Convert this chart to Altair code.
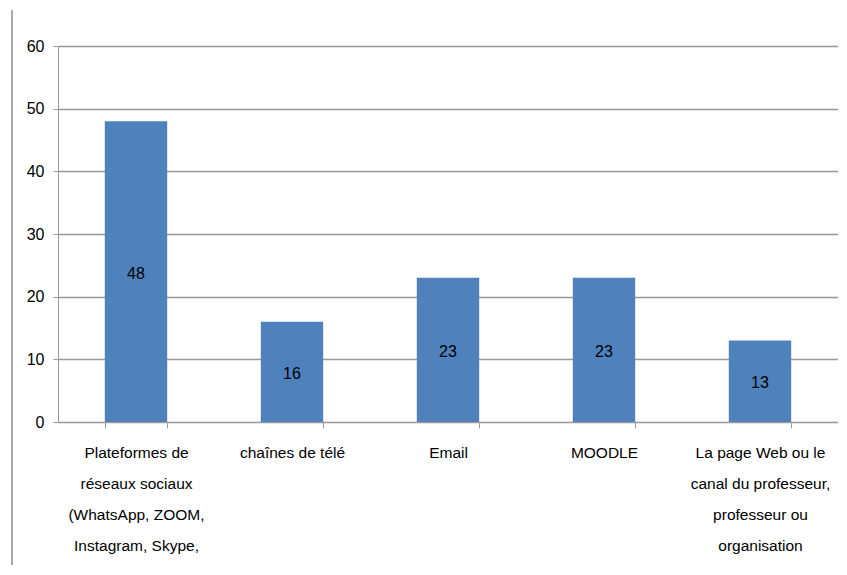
import altair as alt
import pandas as pd

categories = [
    "Plateformes de|réseaux sociaux|(WhatsApp, ZOOM,|Instagram,  Skype,",
    "chaînes de télé",
    "Email",
    "MOODLE",
    "La page Web ou le|canal du  professeur,|professeur ou|organisation",
]
values = [48, 16, 23, 23, 13]

df = pd.DataFrame({"cat": categories, "val": values})

FONT = "Liberation Sans"

x = alt.X("cat:N", sort=categories, title=None,
          scale=alt.Scale(paddingInner=0.6, paddingOuter=0.3),
          axis=alt.Axis(labelAngle=0, labelExpr="split(datum.label, '|')",
                        labelLineHeight=31, labelPadding=24, labelLimit=0,
                        labelFontSize=15.5, labelFont=FONT, labelColor="#000",
                        tickBand="extent", tickSize=6, tickColor="#999",
                        domainColor="#999", grid=False, labelBaseline="middle"))
y = alt.Y("val:Q", title=None,
          scale=alt.Scale(domain=[0, 60], nice=False),
          axis=alt.Axis(values=[0, 10, 20, 30, 40, 50, 60], tickSize=5,
                        tickColor="#999", gridColor="#999", gridWidth=1.3,
                        domainColor="#999", labelFontSize=16, labelFont=FONT,
                        labelColor="#000", labelPadding=9))

bars = alt.Chart(df).mark_bar(color="#4F81BD").encode(x=x, y=y)
text = alt.Chart(df).mark_text(fontSize=16, font=FONT, color="#000", dy=2).encode(
    x=alt.X("cat:N", sort=categories), y=alt.Y("mid:Q"), text="val:Q"
).transform_calculate(mid="datum.val/2")

border = alt.Chart(pd.DataFrame({"a": [0]})).mark_rule(color="#aaa", strokeWidth=2).encode(
    x=alt.value(-46), y=alt.value(-36), y2=alt.value(545))

chart = alt.layer(bars, text, border).properties(
    width=780, height=376,
    padding={"left": 50, "top": 38, "right": 0, "bottom": 143},
    autosize=alt.AutoSizeParams(type="none"),
).configure_view(stroke=None)

chart.save("out.html", embed_options={"renderer": "svg", "actions": False})
